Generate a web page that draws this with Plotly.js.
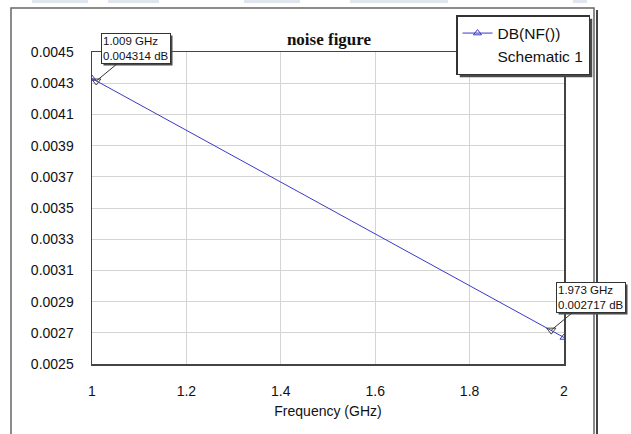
<!DOCTYPE html>
<html>
<head>
<meta charset="utf-8">
<script src="https://cdn.plot.ly/plotly-3.0.1.min.js"></script>
<style>html,body{margin:0;padding:0;background:#fff;}#chart{width:631px;height:434px;}</style>
</head>
<body>
<div id="chart"></div>
<script>
// ---- data ----
const freqGHz = [1, 2];
const nfDB = [0.00433, 0.00267];
const markerFreq = [1.009, 1.973];
const markerNF = [0.004314, 0.002717];
const markerLabels = ["1.009 GHz<br>0.004314 dB", "1.973 GHz<br>0.002717 dB"];
const seriesName = "DB(NF())";
const schematicName = "Schematic 1";
const xTicks = [1, 1.2, 1.4, 1.6, 1.8, 2];
const yTicks = [0.0025, 0.0027, 0.0029, 0.0031, 0.0033, 0.0035, 0.0037, 0.0039, 0.0041, 0.0043, 0.0045];

// ---- layout helpers (pixel -> paper) ----
const W = 631, H = 434;
const M = {l: 92, r: 67, t: 52, b: 70};
const PW = W - M.l - M.r, PH = H - M.t - M.b;
const px = v => (v - M.l) / PW;
const py = v => (H - M.b - v) / PH;

const FONT = "Liberation Sans, Arial, sans-serif";
const blue = "#3a3ac8";

const traces = [
  {
    x: freqGHz, y: nfDB, name: seriesName, mode: "lines+markers",
    line: {color: blue, width: 1},
    marker: {symbol: "triangle-up-open", size: 7, color: blue, line: {width: 1}}
  },
  {
    x: [null], y: [null], name: schematicName, mode: "lines",
    line: {color: "rgba(0,0,0,0)", width: 0}, hoverinfo: "skip"
  },
  {
    x: markerFreq, y: markerNF, mode: "markers", showlegend: false,
    marker: {symbol: "triangle-down-open", size: 8, color: "#444", line: {width: 1}}
  }
];

const offsets = [{ax: 40, ay: -33}, {ax: 40, ay: -33}];
const annotations = markerFreq.map((f, i) => ({
  x: f, y: markerNF[i], xref: "x", yref: "y", text: markerLabels[i],
  showarrow: true, arrowhead: 0, arrowwidth: 1, arrowcolor: "#333",
  ax: offsets[i].ax, ay: offsets[i].ay, align: "left",
  font: {family: FONT, size: 11.5, color: "#111"},
  bgcolor: "#fff", bordercolor: "#333", borderwidth: 1, borderpad: 1
}));

const baseShapes = [
  // top toolbar fragments
  ...[[32, 88], [108, 159], [244, 300], [350, 448], [573, 587]].map(s => ({
    type: "rect", xref: "paper", yref: "paper", x0: px(s[0]), x1: px(s[1]), y0: py(3), y1: py(0),
    fillcolor: "#dfe5ec", line: {width: 0}, layer: "below"
  })),
  // outer frame
  {type: "rect", xref: "paper", yref: "paper", x0: px(11), x1: px(594), y0: py(440), y1: py(8),
   line: {color: "#666", width: 1.5}, layer: "below"},
  {type: "line", xref: "paper", yref: "paper", x0: px(597), x1: px(597), y0: py(440), y1: py(10),
   line: {color: "#444", width: 2}, layer: "below"}
];

const layout = {
  width: W, height: H,
  margin: M,
  paper_bgcolor: "#fff", plot_bgcolor: "#fff",
  font: {family: FONT, size: 14, color: "#111"},
  title: {
    text: "<b>noise figure</b>", x: px(329), xref: "paper", y: 1 - 39 / H, yref: "container",
    xanchor: "center", yanchor: "middle",
    font: {family: "Liberation Serif, Times New Roman, serif", size: 17, color: "#111"}
  },
  xaxis: {
    range: [1, 2], tickvals: xTicks, ticktext: xTicks.map(String),
    showgrid: true, gridcolor: "#d4d4d4", gridwidth: 1,
    showline: true, linecolor: "#444", linewidth: 1.5, mirror: true,
    zeroline: false, ticks: "", ticklabelstandoff: 14,
    tickfont: {family: FONT, size: 14, color: "#111"},
    title: {text: "Frequency (GHz)", standoff: 8, font: {family: FONT, size: 14, color: "#111"}},
    automargin: false, fixedrange: true
  },
  yaxis: {
    range: [0.0025, 0.0045], tickvals: yTicks, ticktext: yTicks.map(v => v.toFixed(4)),
    showgrid: true, gridcolor: "#d4d4d4", gridwidth: 1,
    showline: true, linecolor: "#444", linewidth: 1.5, mirror: true,
    zeroline: false, ticks: "", ticklabelstandoff: 14,
    tickfont: {family: FONT, size: 14, color: "#111"},
    automargin: false, fixedrange: true
  },
  showlegend: true,
  legend: {
    x: px(456), y: py(15), xanchor: "left", yanchor: "top",
    bgcolor: "#fff", bordercolor: "#333", borderwidth: 1.5,
    font: {family: FONT, size: 15.5, color: "#111"},
    tracegroupgap: 0, itemwidth: 30
  },
  annotations: annotations,
  shapes: baseShapes
};

const gd = document.getElementById("chart");
Plotly.newPlot(gd, traces, layout, {displayModeBar: false, staticPlot: true}).then(() => {
  // drop shadows behind the legend box and marker label boxes
  const root = gd.getBoundingClientRect();
  const shadowFor = (el, d) => {
    const r = el.getBoundingClientRect();
    const x0 = r.left - root.left + d, x1 = r.right - root.left + d;
    const y0 = r.top - root.top + d, y1 = r.bottom - root.top + d;
    return {type: "rect", xref: "paper", yref: "paper", x0: px(x0), x1: px(x1), y0: py(y1), y1: py(y0),
            fillcolor: "#4a4a4a", line: {width: 0}, layer: "above"};
  };
  const extra = [];
  const leg = gd.querySelector(".legend rect.bg");
  if (leg) extra.push(shadowFor(leg, 3));
  gd.querySelectorAll(".annotation rect.bg").forEach(el => extra.push(shadowFor(el, 2)));
  return Plotly.relayout(gd, {shapes: baseShapes.concat(extra)});
});
</script>
</body>
</html>
